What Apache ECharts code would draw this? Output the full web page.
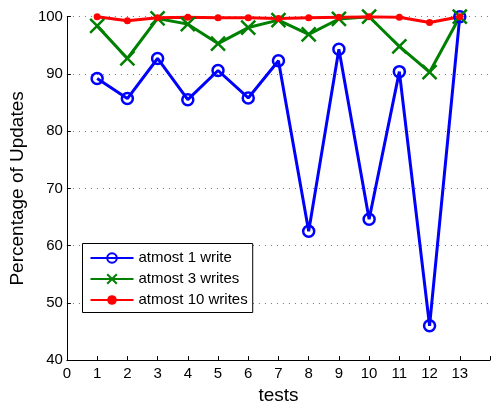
<!DOCTYPE html>
<html>
<head>
<meta charset="utf-8">
<script src="https://cdn.jsdelivr.net/npm/echarts@6/dist/echarts.min.js"></script>
<style>
  html, body { margin: 0; padding: 0; background: #fff; }
  #chart { width: 493px; height: 410px; }
</style>
</head>
<body>
<div id="chart"></div>
<script>
// test numbers on the x axis
const tests = [1, 2, 3, 4, 5, 6, 7, 8, 9, 10, 11, 12, 13];
// percentage of updates per test
const atmost1 = [89.2, 85.7, 92.7, 85.5, 90.6, 85.8, 92.3, 62.5, 94.3, 64.6, 90.4, 46.0, 100];
const atmost3 = [98.4, 92.7, 99.7, 98.7, 95.3, 98.1, 99.4, 96.9, 99.6, 100, 94.8, 90.3, 100];
const atmost10 = [100, 99.3, 99.8, 99.9, 99.8, 99.8, 99.7, 99.8, 99.9, 100, 99.9, 99.0, 100];
const legendNames = ['atmost 1 write', 'atmost 3 writes', 'atmost 10 writes'];

const font = '"Liberation Sans", Arial, Helvetica, sans-serif';

function pairs(vals) {
    return tests.map((t, i) => [t, vals[i]]);
}

const chart = echarts.init(document.getElementById('chart'));
chart.setOption({
    animation: false,
    textStyle: { fontFamily: font },
    grid: { left: 66.5, top: 16.7, width: 429, height: 351.6, containLabel: false },
    legend: {
        orient: 'vertical',
        left: 82.5,
        top: 243.5,
        data: legendNames,
        itemWidth: 43,
        itemHeight: 12,
        itemGap: 6,
        padding: [7, 5, 5, 7],
        borderColor: '#000',
        borderWidth: 1,
        backgroundColor: '#fff',
        textStyle: { fontSize: 15, color: '#000', fontFamily: font }
    },
    xAxis: {
        type: 'value',
        min: 0,
        max: 14,
        interval: 1,
        name: 'tests',
        nameLocation: 'middle',
        nameGap: 22,
        nameTextStyle: { fontSize: 19, color: '#000', fontFamily: font },
        axisLine: { lineStyle: { color: '#000', width: 1 } },
        axisTick: { inside: true, length: 4, lineStyle: { color: '#000' } },
        axisLabel: {
            fontSize: 15, color: '#000', margin: 6,
            formatter: v => (v > 13 ? '' : v)
        },
        splitLine: { show: false }
    },
    yAxis: {
        type: 'value',
        min: 40,
        max: 100,
        interval: 10,
        name: 'Percentage of Updates',
        nameLocation: 'middle',
        nameGap: 37,
        nameTextStyle: { fontSize: 19, color: '#000', fontFamily: font },
        axisLine: { show: true, lineStyle: { color: '#000', width: 1 } },
        axisTick: { show: true, inside: true, length: 4, lineStyle: { color: '#000' } },
        axisLabel: { fontSize: 15, color: '#000', margin: 4 },
        splitLine: { show: true, lineStyle: { color: '#777', type: [1, 5], width: 1 } }
    },
    series: [
        {
            name: legendNames[0],
            type: 'line',
            data: pairs(atmost1),
            symbol: 'circle',
            symbolSize: 11,
            lineStyle: { color: '#0000ff', width: 3 },
            itemStyle: { color: 'rgba(0,0,0,0)', borderColor: '#0000ff', borderWidth: 2.5 }
        },
        {
            name: legendNames[1],
            type: 'line',
            data: pairs(atmost3),
            symbol: 'path://M0,0L10,10M0,10L10,0',
            symbolSize: 14,
            lineStyle: { color: '#008000', width: 3 },
            itemStyle: { color: 'none', borderColor: '#008000', borderWidth: 2.5 }
        },
        {
            name: legendNames[2],
            type: 'line',
            data: pairs(atmost10),
            symbol: 'circle',
            symbolSize: 7,
            lineStyle: { color: '#ff0000', width: 3 },
            itemStyle: { color: '#ff0000', borderWidth: 0 }
        }
    ]
});
</script>
</body>
</html>
